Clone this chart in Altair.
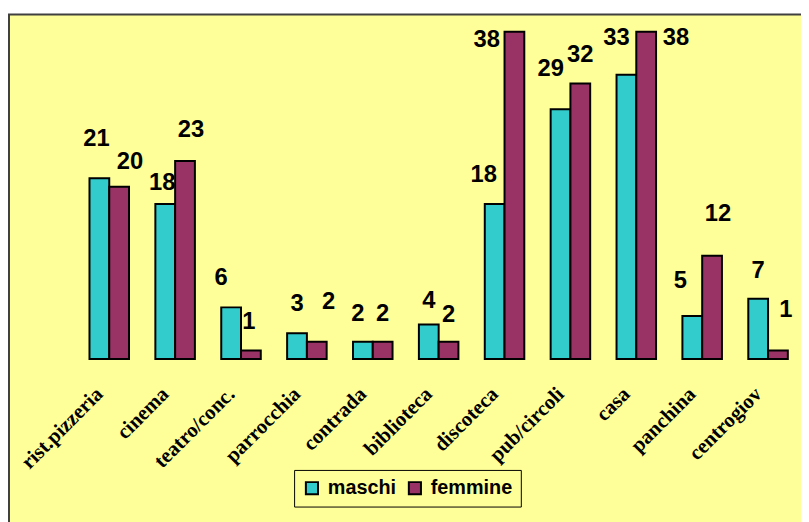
import json
import altair as alt
import pandas as pd

# ---- data ----
categories = ["rist.pizzeria", "cinema", "teatro/conc.", "parrocchia", "contrada",
              "biblioteca", "discoteca", "pub/circoli", "casa", "panchina", "centrogiov"]
maschi = [21, 18, 6, 3, 2, 4, 18, 29, 33, 5, 7]
femmine = [20, 23, 1, 2, 2, 2, 38, 32, 38, 12, 1]
series = ["maschi", "femmine"]

# label nudges (pixels, relative to top-centre of each bar), as placed in the original
m_dx = [-3, -3, -10, 0, -5, 0, -11, -10, -10, -12, 0]
m_dy = [-39, -21, -30, -29, -28, -24, -29, -41, -37, -35, -28]
f_dx = [11, 6, -2, 12, 0, 0, -28, 0, 30, 6, 8]
f_dy = [-25, -31, -29, -40, -28, -27, 8, -29, 6, -42, -41]

# ---- layout ----
W, H = 732, 348
YMAX = 40
PX_X = W / len(categories)
PX_Y = H / YMAX
BAR = 0.3

rows = []
for i, c in enumerate(categories):
    for s, vals, dxs, dys, side in (("maschi", maschi, m_dx, m_dy, -1), ("femmine", femmine, f_dx, f_dy, 1)):
        v = vals[i]
        x0 = i - BAR if side < 0 else i
        x1 = i if side < 0 else i + BAR
        rows.append(dict(cat=c, sex=s, value=v, x0=x0, x1=x1,
                         lx=i + side * BAR / 2 + dxs[i] / PX_X,
                         ly=v - dys[i] / PX_Y))
df = pd.DataFrame(rows)

xscale = alt.Scale(domain=[-0.5, len(categories) - 0.5], nice=False, zero=False)
yscale = alt.Scale(domain=[0, YMAX], nice=False)
names_js = json.dumps(categories)

frame = alt.Chart(pd.DataFrame({"a": [0]})).mark_rect(
    fill="#FFFF99", stroke="#404040", strokeWidth=2
).encode(x=alt.value(-68), x2=alt.value(W + 40), y=alt.value(0), y2=alt.value(H + 300))

bars = alt.Chart(df).mark_bar(stroke="black", strokeWidth=2).encode(
    x=alt.X("x0:Q", scale=xscale,
            axis=alt.Axis(values=list(range(len(categories))),
                          labelExpr=f"{names_js}[datum.value]",
                          labelAngle=-45, labelAlign="right", labelBaseline="middle",
                          labelFont="Liberation Serif", labelFontWeight="bold",
                          labelFontSize=21, labelColor="black", labelPadding=32,
                          labelOffset=-10, labelFlush=False, labelOverlap=False,
                          domain=False, ticks=False, grid=False, title=None, zindex=2)),
    x2="x1:Q",
    y=alt.Y("value:Q", scale=yscale, stack=None, axis=None),
    y2=alt.datum(0),
    color=alt.Color("sex:N", scale=alt.Scale(domain=series, range=["#33CCCC", "#993366"]),
                    legend=alt.Legend(title=None, orient="none", legendX=220, legendY=460,
                                      direction="horizontal", fillColor="#FFFF99",
                                      strokeColor="black", padding=8,
                                      symbolType="square", symbolSize=150,
                                      symbolStrokeColor="black", symbolStrokeWidth=2,
                                      labelFont="Liberation Sans", labelFontWeight="bold",
                                      labelFontSize=20, labelColor="black",
                                      labelOffset=6, columnPadding=8, zindex=2)),
)

labels = alt.Chart(df).mark_text(
    font="Liberation Sans", fontWeight="bold", fontSize=24, color="black",
    align="center", baseline="middle"
).encode(
    x=alt.X("lx:Q", scale=xscale),
    y=alt.Y("ly:Q", scale=yscale),
    text="value:Q",
)

chart = alt.layer(frame, bars, labels).properties(
    width=W, height=H,
    autosize=alt.AutoSizeParams(type="none"),
    padding={"left": 69, "top": 4, "right": 0, "bottom": 162},
    background="white",
).configure_view(stroke=None)

chart.save("out.html", embed_options={"renderer": "svg", "actions": False})
